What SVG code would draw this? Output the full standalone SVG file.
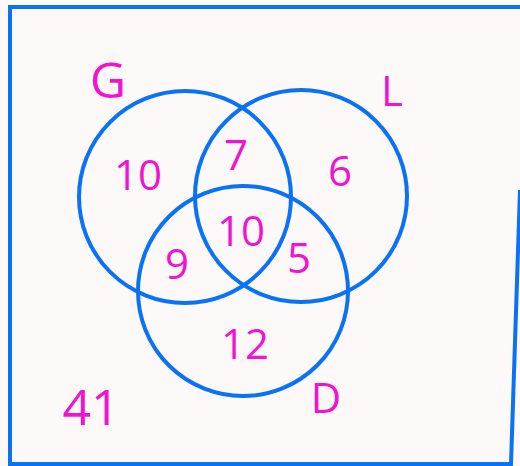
<svg xmlns="http://www.w3.org/2000/svg" width="520" height="466" viewBox="0 0 520 466">
<style>
.frame{fill:none;stroke:#0a72f5;stroke-width:4;stroke-linejoin:miter}
.circ{fill:none;stroke:#0a72f5;stroke-width:4}
.lbl{font-family:"Open Sans","Liberation Sans",sans-serif;fill:#f014d0;text-anchor:middle;font-size:42px}
.big{font-size:50px}
</style>
<rect width="520" height="466" fill="#fdf9f8"/>
<g id="frame">
<path class="frame" d="M520,7 H10 V464 H511 L520,190"/>
</g>
<g id="set-G">
<circle class="circ" cx="185" cy="197" r="106"/>
<text class="lbl big" x="108" y="98">G</text>
</g>
<g id="set-L">
<circle class="circ" cx="301" cy="196" r="106"/>
<text class="lbl" x="392" y="106">L</text>
</g>
<g id="set-D">
<circle class="circ" cx="243" cy="291" r="105"/>
<text class="lbl" x="326" y="413">D</text>
</g>
<g id="regions">
<text class="lbl" x="138" y="190">10</text>
<text class="lbl" x="236" y="170">7</text>
<text class="lbl" x="340" y="186">6</text>
<text class="lbl" x="241" y="246">10</text>
<text class="lbl" x="177" y="279">9</text>
<text class="lbl" x="299" y="273">5</text>
<text class="lbl" x="245" y="359">12</text>
<text class="lbl big" x="91" y="425">41</text>
</g>
</svg>
